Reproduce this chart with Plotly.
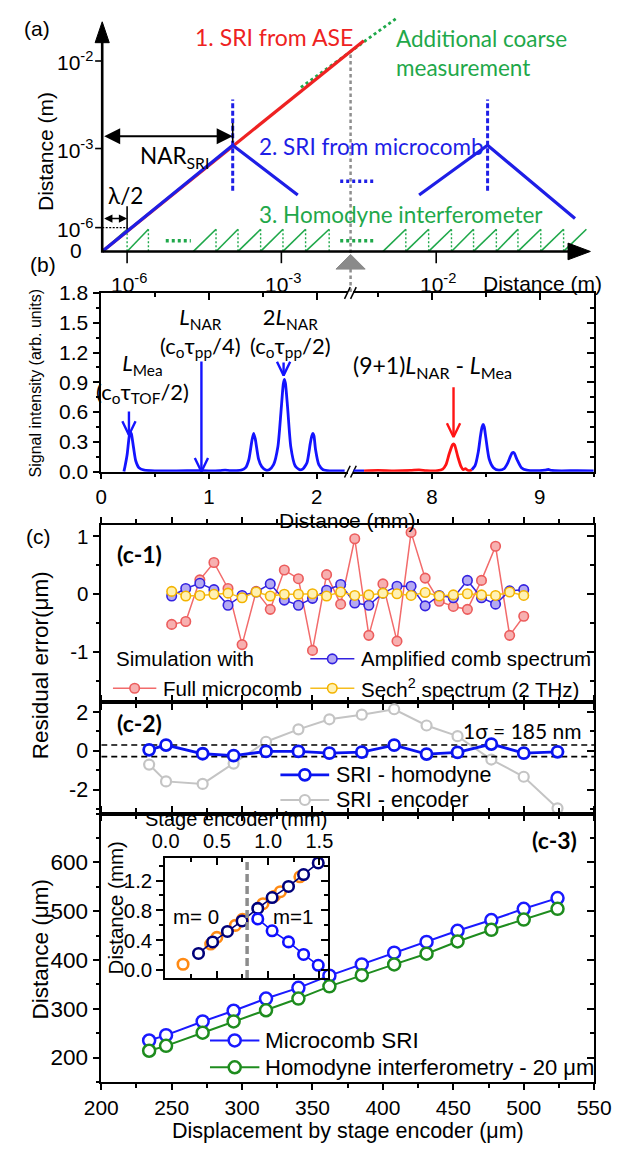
import plotly.graph_objects as go

W, H = 631, 1155
ARIAL = "Liberation Sans, Arial, sans-serif"
CAL = "Lato, Liberation Sans, sans-serif"

# ------------------------------------------------------------------ data
# (a) schematic sketch, units = px right / up from the sketch origin
ase_x = [0, 277.4]; ase_y = [0, 215.0]
coarse_x = [210.7, 312.7]; coarse_y = [167.3, 238.3]
comb1_x = [0, 138.4, 207.4]; comb1_y = [0, 108.3, 57.6]
comb2_x = [336.1, 408.7, 501.4]; comb2_y = [57.6, 108.3, 33.6]
comb_mark_x = [138.4, 408.7]; comb_mark_y = [62.0, 155.0]
homo_start = [0, 26.4, 96.7, 120.7, 144.0, 168.0, 191.7, 215.7,
              297.8, 322.0, 346.2, 370.4, 393.8, 418.0, 440.9, 465.1, 489.3]
homo_end = [26.4, 49.0, 120.7, 144.0, 168.0, 191.7, 215.7, 240.7,
            322.0, 346.2, 370.4, 393.8, 418.0, 440.9, 465.1, 489.3, 513.5]
homo_reset = [26.4, 49.0, 120.7, 144.0, 168.0, 191.7, 215.7, 240.7,
              322.0, 346.2, 370.4, 393.8, 418.0, 440.9, 465.1, 489.3]
homo_h = 22.6
gap_dots_green = [(67.4, 94.0, 11.0), (252.4, 287.4, 11.0)]
gap_dots_blue = [(252.4, 287.4, 71.6)]
a_ytick_v = [194.3, 105.0, 24.3]
a_ytick_txt = ["10<sup>-2</sup>", "10<sup>-3</sup>", "10<sup>-6</sup>"]
a_xtick_u = [26.4, 190.0, 354.2]
a_xtick_txt = ["10<sup>-6</sup>", "10<sup>-3</sup>", "10<sup>-2</sup>"]
scan_u = 263.4

# (b) signal traces
b_left_x = [0.21, 0.22, 0.24, 0.26, 0.27, 0.28, 0.30, 0.32, 0.35, 0.40,
            0.50, 0.70, 0.90, 1.00, 1.10, 1.15, 1.20, 1.30, 1.34, 1.37,
            1.40, 1.415, 1.43, 1.46, 1.49, 1.53, 1.56, 1.60, 1.64, 1.67,
            1.69, 1.70, 1.71, 1.73, 1.76, 1.80, 1.84, 1.87, 1.91, 1.94,
            1.955, 1.965, 1.975, 1.99, 2.02, 2.06, 2.12, 2.26]
b_left_y = [0.0, 0.05, 0.17, 0.36, 0.40, 0.38, 0.24, 0.11, 0.04, 0.015,
            0.008, 0.008, 0.010, 0.008, 0.010, 0.015, 0.010, 0.015, 0.04, 0.12,
            0.32, 0.385, 0.33, 0.13, 0.05, 0.015, 0.02, 0.07, 0.25, 0.62,
            0.88, 0.93, 0.89, 0.65, 0.25, 0.06, 0.02, 0.025, 0.09, 0.28,
            0.36, 0.385, 0.36, 0.22, 0.07, 0.02, 0.008, 0.008]
b_pre_x = [7.27, 7.37]; b_pre_y = [0.008, 0.008]
b_red_x = [7.37, 7.50, 7.65, 7.80, 7.88, 7.95, 8.05, 8.10, 8.13, 8.16,
           8.19, 8.20, 8.21, 8.24, 8.27, 8.29, 8.31, 8.33, 8.35, 8.37]
b_red_y = [0.008, 0.012, 0.008, 0.012, 0.018, 0.010, 0.010, 0.025, 0.07, 0.18,
           0.27, 0.28, 0.27, 0.15, 0.05, 0.02, 0.03, 0.015, 0.01, 0.02]
b_post_x = [8.37, 8.40, 8.43, 8.45, 8.465, 8.475, 8.485, 8.50, 8.53, 8.57,
            8.62, 8.67, 8.70, 8.73, 8.745, 8.755, 8.765, 8.79, 8.83, 8.88,
            9.00, 9.05, 9.08, 9.11, 9.20, 9.35, 9.50]
b_post_y = [0.02, 0.06, 0.20, 0.36, 0.45, 0.475, 0.45, 0.34, 0.13, 0.04,
            0.015, 0.03, 0.08, 0.16, 0.19, 0.195, 0.185, 0.12, 0.04, 0.015,
            0.01, 0.015, 0.022, 0.012, 0.008, 0.01, 0.008]
b_arrow_x = [0.257, 0.93, 1.693]; b_arrow_top = [0.605, 1.11, 1.10]; b_arrow_tip = [0.37, 0.0, 0.97]
b_rarrow_x = [8.20]; b_rarrow_top = [0.85]; b_rarrow_tip = [0.35]
b_yticks = [0.0, 0.3, 0.6, 0.9, 1.2, 1.5, 1.8]

# (c-1)
c1_x = [250, 260, 270, 280, 290, 300, 310, 320, 330, 340, 350, 360, 370,
        380, 390, 400, 410, 420, 430, 440, 450, 460, 470, 480, 490, 500]
c1_full = [-0.52, -0.47, 0.25, 0.55, 0.10, -0.87, 0.05, -0.26, 0.42, 0.27, -0.97, 0.34, -0.17,
           0.96, -0.71, 0.18, -0.81, 1.07, 0.28, -0.12, -0.21, -0.26, 0.24, 0.83, -0.71, -0.38]
c1_amp = [-0.03, 0.10, 0.19, 0.08, -0.19, -0.02, 0.04, 0.18, -0.10, -0.19, -0.07, 0.07, 0.17,
          -0.15, -0.19, 0.02, 0.14, 0.14, -0.20, -0.02, -0.06, 0.24, -0.06, -0.17, 0.06, 0.08]
c1_sech = [0.05, -0.03, -0.02, 0.0, 0.02, -0.06, 0.04, -0.03, 0.0, 0.0, 0.01, -0.03, 0.04,
           -0.02, -0.01, 0.02, 0.01, -0.02, 0.03, -0.03, -0.01, 0.01, -0.01, -0.02, 0.04, -0.02]
# (c-2)
c2_x = [234, 246, 272, 294, 317, 340, 362, 385, 408, 431, 453, 477, 500, 524]
c2_homo = [0.05, 0.30, -0.15, -0.25, -0.03, -0.03, -0.12, -0.07, 0.29, -0.17, -0.08, 0.35, -0.12, -0.05]
c2_enc = [-0.71, -1.58, -1.71, -0.66, 0.47, 1.11, 1.63, 1.87, 2.15, 1.31, 0.76, -0.45, -1.34, -2.97]
c2_band = [0.3, -0.3]
# (c-3)
c3_x = c2_x
c3_sri = [235, 246, 274, 296, 321, 343, 368, 391, 415, 437, 460, 482, 505, 527]
c3_homo = [214, 224, 251, 274, 297, 321, 346, 369, 391, 413, 438, 462, 483, 505]
# inset
ins_ref_x = [0.17, 0.44, 0.50, 0.68, 0.75, 0.95, 1.06, 1.12, 1.31]
ins_ref_y = [0.08, 0.35, 0.44, 0.60, 0.68, 0.89, 0.99, 1.05, 1.25]
ins_m0_x = [0.321, 0.459, 0.603, 0.746, 0.899, 1.039, 1.199, 1.346, 1.489]
ins_m0_y = [0.224, 0.378, 0.519, 0.659, 0.827, 0.972, 1.121, 1.280, 1.435]
ins_m1_x = [0.899, 1.039, 1.199, 1.346, 1.489]
ins_m1_y = [0.686, 0.528, 0.379, 0.211, 0.066]
ins_boundary = 0.795

# ------------------------------------------------------------------ colours
RED_A, BLUE_A, GREEN_A = "#ee2222", "#1e1ee6", "#1fa84a"
BLUE_B, RED_B = "#1414ff", "#ff1414"

# ------------------------------------------------------------------ helpers
fig = go.Figure()
ann = []


def S(x, y, xa="x", ya="y", **kw):
    fig.add_trace(go.Scatter(x=x, y=y, xaxis=xa, yaxis=ya, showlegend=False,
                             hoverinfo="skip", **kw))


def T(text, x, y, size=20, color="black", family=ARIAL, xanchor="center",
      yanchor="middle", angle=0):
    ann.append(dict(text=text, x=x, y=y, xref="x", yref="y", showarrow=False,
                    font=dict(family=family, size=size, color=color),
                    xanchor=xanchor, yanchor=yanchor, textangle=angle))


OX, OY = 89.3, 244.3   # sketch origin in page px


def PX(us):
    return [None if u is None else OX + u for u in us]


def PY(vs):
    return [None if v is None else OY - v for v in vs]


def segs(pairs):
    xs, ys = [], []
    for (x0, y0), (x1, y1) in pairs:
        xs += [x0, x1, None]
        ys += [y0, y1, None]
    return xs, ys


# ------------------------------------------------------------------ (a) sketch
xs, ys = segs([((s, 0), (e, homo_h)) for s, e in zip(homo_start, homo_end)])
S(PX(xs), PY(ys), mode="lines", line=dict(color=GREEN_A, width=1.6))
xs, ys = segs([((r, homo_h), (r, 0)) for r in homo_reset])
S(PX(xs), PY(ys), mode="lines", line=dict(color=GREEN_A, width=1.4, dash="2px,2px"))
xs, ys = segs([((a, v), (b, v)) for a, b, v in gap_dots_green])
S(PX(xs), PY(ys), mode="lines", line=dict(color=GREEN_A, width=3.5, dash="3px,3px"))
xs, ys = segs([((a, v), (b, v)) for a, b, v in gap_dots_blue])
S(PX(xs), PY(ys), mode="lines", line=dict(color=BLUE_A, width=3.5, dash="3px,3px"))
S(PX(coarse_x), PY(coarse_y), mode="lines", line=dict(color=GREEN_A, width=2.8, dash="3px,3px"))
S(PX(ase_x), PY(ase_y), mode="lines", line=dict(color=RED_A, width=3.2))
S(PX(comb1_x), PY(comb1_y), mode="lines", line=dict(color=BLUE_A, width=3.2))
S(PX(comb2_x), PY(comb2_y), mode="lines", line=dict(color=BLUE_A, width=3.2))
xs, ys = segs([((u, comb_mark_y[0]), (u, comb_mark_y[1])) for u in comb_mark_x])
S(PX(xs), PY(ys), mode="lines", line=dict(color=BLUE_A, width=3, dash="5px,2.5px"))
S(PX([scan_u, scan_u]), PY([201.0, -42.7]), mode="lines",
  line=dict(color="#8e8e8e", width=2.5, dash="3.5px,3px"))
# helper marks
xs, ys = segs([((138.4, 131.0), (138.4, 111.0)), ((26.4, 46.0), (26.4, 22.6))])
S(PX(xs), PY(ys), mode="lines", line=dict(color="black", width=1.6))
S(PX([0, 26.4]), PY([24.3, 24.3]), mode="lines", line=dict(color="black", width=1.3, dash="2px,1.5px"))
# sketch axes + ticks
S(PX([0, 0, 497.7]), PY([216.0, 0, 0]), mode="lines", line=dict(color="black", width=2.6))
xs, ys = segs([((-7.5, v), (0, v)) for v in a_ytick_v] + [((u, 0), (u, -12)) for u in a_xtick_u])
S(PX(xs), PY(ys), mode="lines", line=dict(color="black", width=1.6))
S(PX([0, -7.5, 7.5, 0]), PY([234.3, 213.0, 213.0, 234.3]), mode="lines", fill="toself",
  fillcolor="black", line=dict(color="black", width=1))
S(PX([517.7, 494.0, 494.0, 517.7]), PY([0, 8.5, -8.5, 0]), mode="lines", fill="toself",
  fillcolor="black", line=dict(color="black", width=1))
S(PX([scan_u, scan_u - 15.5, scan_u + 15.5, scan_u]), PY([-3.0, -18.0, -18.0, -3.0]),
  mode="lines", fill="toself", fillcolor="#8a8a8a", line=dict(color="#8a8a8a", width=1))

for v, t in zip(a_ytick_v, a_ytick_txt):
    T(t, OX - 8, OY - v, size=21, xanchor="right")
T("0", 62, 243.5, size=21)
for u, t in zip(a_xtick_u, a_xtick_txt):
    T(t, OX + u + 2, 277, size=21)
T("Distance (m)", 556, 277, size=21)
T("Distance (m)", 28.5, 142, size=21, angle=-90)
T("(a)", 20, 16.5, size=21)
T("1. SRI from ASE", 271, 25, size=23, color=RED_A, family=CAL)
T("Additional coarse", 399, 27, size=22.5, color=GREEN_A, family=CAL, xanchor="left")
T("measurement", 399, 57, size=22.5, color=GREEN_A, family=CAL, xanchor="left")
T("NAR<sub>SRI</sub>", 166, 148, size=22.5, family=CAL)
T("2. SRI from microcomb", 253, 137, size=22.5, color=BLUE_A, family=CAL, xanchor="left")
T("λ/2", 114, 187, size=22.5, family=CAL)
T("3. Homodyne interferometer", 253, 207, size=22.5, color=GREEN_A, family=CAL, xanchor="left")
ann.append(dict(x=OX + 138.4, y=OY - 117.6, ax=OX + 0.5, ay=OY - 117.6, xref="x", yref="y",
                axref="x", ayref="y", text="", showarrow=True, arrowhead=2, startarrowhead=2,
                arrowside="end+start", arrowsize=1.6, startarrowsize=1.6, arrowwidth=2,
                arrowcolor="black", standoff=0, startstandoff=0))
ann.append(dict(x=OX + 26.4, y=OY - 33.6, ax=OX + 0.5, ay=OY - 33.6, xref="x", yref="y",
                axref="x", ayref="y", text="", showarrow=True, arrowhead=2, startarrowhead=2,
                arrowside="end+start", arrowsize=1.1, startarrowsize=1.1, arrowwidth=1.5,
                arrowcolor="black", standoff=0, startstandoff=0))

# ------------------------------------------------------------------ (b)
S(b_left_x, b_left_y, "x2", "y2", mode="lines", line=dict(color=BLUE_B, width=2.8, shape="spline", smoothing=0.6))
S(b_pre_x, b_pre_y, "x3", "y2", mode="lines", line=dict(color=BLUE_B, width=2.8))
S(b_red_x, b_red_y, "x3", "y2", mode="lines", line=dict(color=RED_B, width=2.8, shape="spline", smoothing=0.6))
S(b_post_x, b_post_y, "x3", "y2", mode="lines", line=dict(color=BLUE_B, width=2.8, shape="spline", smoothing=0.6))
DX, DY = 7 / 114.2, 14 / 101.3


def arrows(xv, top, tip):
    xs, ys = [], []
    for x0, t, p in zip(xv, top, tip):
        xs += [x0, x0, None, x0 - DX, x0, x0 + DX, None]
        ys += [t, p, None, p + DY, p, p + DY, None]
    return xs, ys


xs, ys = arrows(b_arrow_x, b_arrow_top, b_arrow_tip)
S(xs, ys, "x2", "y2", mode="lines", line=dict(color=BLUE_B, width=2.4))
xs, ys = arrows(b_rarrow_x, b_rarrow_top, b_rarrow_tip)
S(xs, ys, "x3", "y2", mode="lines", line=dict(color=RED_B, width=2.4))
# axis break marks
xs, ys = segs([((cx - 3, cy + 6), (cx + 3, cy - 6)) for cx in (349.3, 355.7) for cy in (469.0, 286.7)])
S(xs, ys, mode="lines", line=dict(color="black", width=1.5))

# two-line peak labels (each one text block)
T("<i>L</i><sub>Mea</sub><br>(c<sub>o</sub>τ<sub>TOF</sub>/2)", 132, 373.5, size=22, family=CAL)
T("<i>L</i><sub>NAR</sub><br>(c<sub>o</sub>τ<sub>pp</sub>/4)", 193.3, 327, size=22, family=CAL)
T("2<i>L</i><sub>NAR</sub><br>(c<sub>o</sub>τ<sub>pp</sub>/2)", 289, 327, size=22, family=CAL)
T("(9+1)<i>L</i><sub>NAR</sub> - <i>L</i><sub>Mea</sub>", 440, 362, size=23, family=CAL)
T("Distance (mm)", 349, 519, size=21)
T("Signal intensity (arb. units)", 18, 378, size=16, angle=-90)
T("(b)", 27, 258, size=21)

# ------------------------------------------------------------------ (c-1)
S(c1_x, c1_full, "x6", "y4", mode="lines+markers", line=dict(color="#f26b6b", width=1.5),
  marker=dict(size=9.5, color="#f7b0b0", line=dict(color="#ec5c5c", width=1.6)))
S(c1_x, c1_amp, "x6", "y4", mode="lines+markers", line=dict(color="#3322e0", width=1.5),
  marker=dict(size=9.5, color="#b4a9f2", line=dict(color="#3322e0", width=1.6)))
S(c1_x, c1_sech, "x6", "y4", mode="lines+markers", line=dict(color="#f6bd1e", width=1.5),
  marker=dict(size=9.5, color="#fff1b3", line=dict(color="#f3b300", width=1.6)))
# legend samples (page px)
S([310, 356.7], [660, 660], mode="lines", line=dict(color="#3322e0", width=1.5))
S([333.3], [660], mode="markers", marker=dict(size=9.5, color="#b4a9f2", line=dict(color="#3322e0", width=1.6)))
S([100.7, 146.7], [690, 690], mode="lines", line=dict(color="#f26b6b", width=1.5))
S([123.7], [690], mode="markers", marker=dict(size=9.5, color="#f7b0b0", line=dict(color="#ec5c5c", width=1.6)))
S([310, 356.7], [690, 690], mode="lines", line=dict(color="#f6bd1e", width=1.5))
S([333.3], [690], mode="markers", marker=dict(size=9.5, color="#fff1b3", line=dict(color="#f3b300", width=1.6)))
T("Simulation with", 101.7, 660, size=20.5, xanchor="left")
T("Amplified comb spectrum", 362, 660, size=20.5, xanchor="left")
T("Full microcomb", 152, 690, size=20.5, xanchor="left")
T("Sech<sup>2</sup> spectrum (2 THz)", 362, 690, size=20.5, xanchor="left")
T("<b>(c-1)</b>", 128.5, 553, size=23, family=CAL)
T("(c)", 22, 535, size=21)
T("Residual error(μm)", 24, 667, size=22.5, angle=-90)

# ------------------------------------------------------------------ (c-2)
S(c2_x, c2_enc, "x7", "y5", mode="lines+markers", line=dict(color="#c4c4c4", width=2),
  marker=dict(size=10, color="white", line=dict(color="#c4c4c4", width=2.2)))
for b in c2_band:
    S([200, 550], [b, b], "x7", "y5", mode="lines", line=dict(color="black", width=1.6, dash="6px,4px"))
S(c2_x, c2_homo, "x7", "y5", mode="lines+markers", line=dict(color="#0a14f0", width=2.8),
  marker=dict(size=11, color="white", line=dict(color="#0a14f0", width=2.8)))
S([278.3, 330], [778.3, 778.3], mode="lines", line=dict(color="#0a14f0", width=2.8))
S([304.2], [778.3], mode="markers", marker=dict(size=11, color="white", line=dict(color="#0a14f0", width=2.8)))
S([278.3, 330], [804, 804], mode="lines", line=dict(color="#c4c4c4", width=2))
S([304.2], [804], mode="markers", marker=dict(size=10, color="white", line=dict(color="#c4c4c4", width=2.2)))
T("SRI - homodyne", 335, 778.3, size=21.5, xanchor="left")
T("SRI - encoder", 335, 804, size=21.5, xanchor="left")
T("<b>(c-2)</b>", 128.5, 725, size=23, family=CAL)
T("1σ = 185 nm", 535, 733, size=21, family=CAL)

# ------------------------------------------------------------------ (c-3)
S(c3_x, c3_sri, "x8", "y6", mode="lines+markers", line=dict(color="#1a1aff", width=2),
  marker=dict(size=12, color="white", line=dict(color="#1a1aff", width=2.5)))
S(c3_x, c3_homo, "x8", "y6", mode="lines+markers", line=dict(color="#1e8c1e", width=2),
  marker=dict(size=12, color="white", line=dict(color="#1e8c1e", width=2.5)))
S([203.6, 256], [1049.3, 1049.3], mode="lines", line=dict(color="#1a1aff", width=2))
S([229.8], [1049.3], mode="markers", marker=dict(size=12, color="white", line=dict(color="#1a1aff", width=2.5)))
S([203.6, 256], [1076.7, 1076.7], mode="lines", line=dict(color="#1e8c1e", width=2))
S([229.8], [1076.7], mode="markers", marker=dict(size=12, color="white", line=dict(color="#1e8c1e", width=2.5)))
T("Microcomb SRI", 260, 1049.3, size=22.5, xanchor="left")
T("Homodyne interferometry - 20 μm", 260, 1076.7, size=22, xanchor="left")
T("<b>(c-3)</b>", 569, 845, size=23, family=CAL)
T("Distance (μm)", 24, 957, size=22.5, angle=-90)
T("Displacement by stage encoder (μm)", 350, 1142, size=21.5)

# inset
S(ins_ref_x, ins_ref_y, "x9", "y10", mode="markers",
  marker=dict(size=10.5, color="white", line=dict(color="#ff8a14", width=2.6)))
S(ins_m0_x, ins_m0_y, "x9", "y10", mode="lines+markers", line=dict(color="#00007a", width=1.6),
  marker=dict(size=10.5, color="white", line=dict(color="#00007a", width=2.6)))
S(ins_m1_x, ins_m1_y, "x9", "y10", mode="lines+markers", line=dict(color="#1010ff", width=1.6),
  marker=dict(size=10.5, color="white", line=dict(color="#1010ff", width=2.6)))
S([ins_boundary, ins_boundary], [-0.105, 1.5], "x9", "y10", mode="lines",
  line=dict(color="#8c8c8c", width=3.5, dash="8px,4px"))
T("m= 0", 188.3, 923.3, size=20.5)
T("m=1", 291.7, 923.3, size=20.5)
T("Stage encoder (mm)", 231, 823, size=20)
T("Distance (mm)", 103.5, 914, size=20.5, angle=-90)

# dummy traces so overlay axes exist
for xa, ya in [("x4", "y2"), ("x5", "y2"), ("x3", "y3"), ("x6", "y7"), ("x7", "y8"),
               ("x8", "y9"), ("x10", "y10"), ("x9", "y11")]:
    S([None], [None], xa, ya, mode="markers")

# ------------------------------------------------------------------ axes


def dom(a, b, total):
    return [a / total, b / total]


def ydom(top, bot):
    return [1 - bot / H, 1 - top / H]


def TF(size):
    return dict(family=ARIAL, size=size, color="black")


def axis(**kw):
    d = dict(showline=True, linecolor="black", linewidth=1.5, ticks="outside", ticklen=7,
             tickwidth=1.5, tickcolor="black", showgrid=False, zeroline=False,
             tickfont=TF(21), fixedrange=True, layer="above traces")
    d.update(kw)
    return d


def minor(d0, dt, inside=False):
    return dict(tickmode="linear", tick0=d0, dtick=dt, ticks="inside" if inside else "outside",
                ticklen=4, tickwidth=1.5, tickcolor="black", showgrid=False)


def arr(vals, fmt):
    return dict(tickmode="array", tickvals=vals, ticktext=[fmt(v) for v in vals])


lay = dict(width=W, height=H, margin=dict(l=0, r=0, t=0, b=0), autosize=False,
           paper_bgcolor="white", plot_bgcolor="rgba(0,0,0,0)", showlegend=False)
# page-pixel axes
lay["xaxis"] = dict(domain=[0, 1], range=[0, W], visible=False, fixedrange=True)
lay["yaxis"] = dict(domain=[0, 1], range=[H, 0], visible=False, fixedrange=True)

# (b)
BY = ydom(286.7, 469.0)
lay["xaxis2"] = axis(domain=dom(88.3, 349.5, W), range=[0, 2.287], anchor="y2", tickfont=TF(20.5),
                     ticklen=6, minor=minor(0, 0.5), **arr([0, 1, 2], lambda v: f"{v:g}"))
lay["xaxis3"] = axis(domain=dom(355.5, 611, W), range=[7.269, 9.505], anchor="y2", tickfont=TF(20.5),
                     ticklen=6, minor=minor(7.5, 0.5), **arr([8, 9], lambda v: f"{v:g}"))
lay["yaxis2"] = axis(domain=BY, range=[0, 1.8], anchor="x2", minor=minor(0, 0.15),
                     **arr(b_yticks, lambda v: f"{v:.1f}"))
lay["xaxis4"] = axis(overlaying="x2", side="top", anchor="y2", range=[0, 2.287], ticks="inside",
                     showticklabels=False, minor=minor(0, 0.5, True), tickvals=[0, 1, 2], tickmode="array")
lay["xaxis5"] = axis(overlaying="x3", side="top", anchor="y2", range=[7.269, 9.505], ticks="inside",
                     showticklabels=False, minor=minor(7.5, 0.5, True), tickvals=[8, 9], tickmode="array")
lay["yaxis3"] = axis(overlaying="y2", side="right", anchor="x3", range=[0, 1.8], ticks="inside",
                     showticklabels=False, minor=minor(0, 0.15, True), tickvals=b_yticks, tickmode="array")

# (c) panels
XT = arr([200, 250, 300, 350, 400, 450, 500, 550], lambda v: f"{v:g}")
C_X = dom(88.3, 611, W)
panels = [("6", "4", "7", (523.3, 704.5), [-1.87, 1.2], [-1, 0, 1], 0.5, 20.5),
          ("7", "5", "8", (704.5, 818.0), [-3.25, 2.5], [-2, 0, 2], 1.0, 21.5),
          ("8", "6", "9", (818.0, 1091.7), [150, 700], [200, 300, 400, 500, 600], 50, 22.5)]
for xi, yi, yr, (tp, bt), rng, tv, mn, fs in panels:
    lay["xaxis" + xi] = axis(domain=C_X, range=[200, 550], anchor="y" + yi, mirror="ticks",
                             tickfont=TF(21), ticklen=6, minor=minor(200, 25),
                             showticklabels=(xi == "8"), **XT)
    lay["yaxis" + yi] = axis(domain=ydom(tp, bt), range=rng, anchor="x" + xi, tickfont=TF(fs),
                             minor=minor(0, mn), **arr(tv, lambda v: f"{v:g}"))
    lay["yaxis" + yr] = axis(domain=ydom(tp, bt), range=rng, anchor="x" + xi, overlaying="y" + yi,
                             side="right", ticks="inside", showticklabels=False,
                             minor=minor(0, mn, True), tickmode="array", tickvals=tv)

# inset
IX = dom(156, 328.3, W)
IY = ydom(863.3, 985.7)
lay["xaxis9"] = axis(domain=IX, range=[-0.005, 1.58], anchor="y10", side="top", tickfont=TF(20),
                     ticks="inside", minor=minor(0, 0.25, True),
                     **arr([0, 0.5, 1.0, 1.5], lambda v: f"{v:.1f}"))
lay["yaxis10"] = axis(domain=IY, range=[-0.105, 1.5], anchor="x9", tickfont=TF(20.5),
                      minor=minor(0, 0.2), **arr([0, 0.4, 0.8, 1.2], lambda v: f"{v:.1f}"))
lay["xaxis10"] = axis(domain=IX, range=[-0.005, 1.58], anchor="y10", overlaying="x9", side="bottom",
                      ticks="inside", showticklabels=False, minor=minor(0, 0.25, True),
                      tickmode="array", tickvals=[0, 0.5, 1.0, 1.5])
lay["yaxis11"] = axis(domain=IY, range=[-0.105, 1.5], anchor="x9", overlaying="y10", side="right",
                      ticks="inside", showticklabels=False, minor=minor(0, 0.2, True),
                      tickmode="array", tickvals=[0, 0.4, 0.8, 1.2])

lay["annotations"] = ann
fig.update_layout(**lay)

# page reset so the 631x1155 figure fills the window exactly (no body margin / scrollbars)
PAGE_FIT = ("document.documentElement.style.margin='0';document.documentElement.style.padding='0';"
            "document.documentElement.style.overflow='hidden';"
            "document.body.style.margin='0';document.body.style.padding='0';"
            "document.body.style.overflow='hidden';"
            "var gd=document.getElementById('{plot_id}');gd.style.position='fixed';"
            "gd.style.left='0px';gd.style.top='0px';")
fig.write_html("out.html", post_script=PAGE_FIT, config={"displayModeBar": False})
